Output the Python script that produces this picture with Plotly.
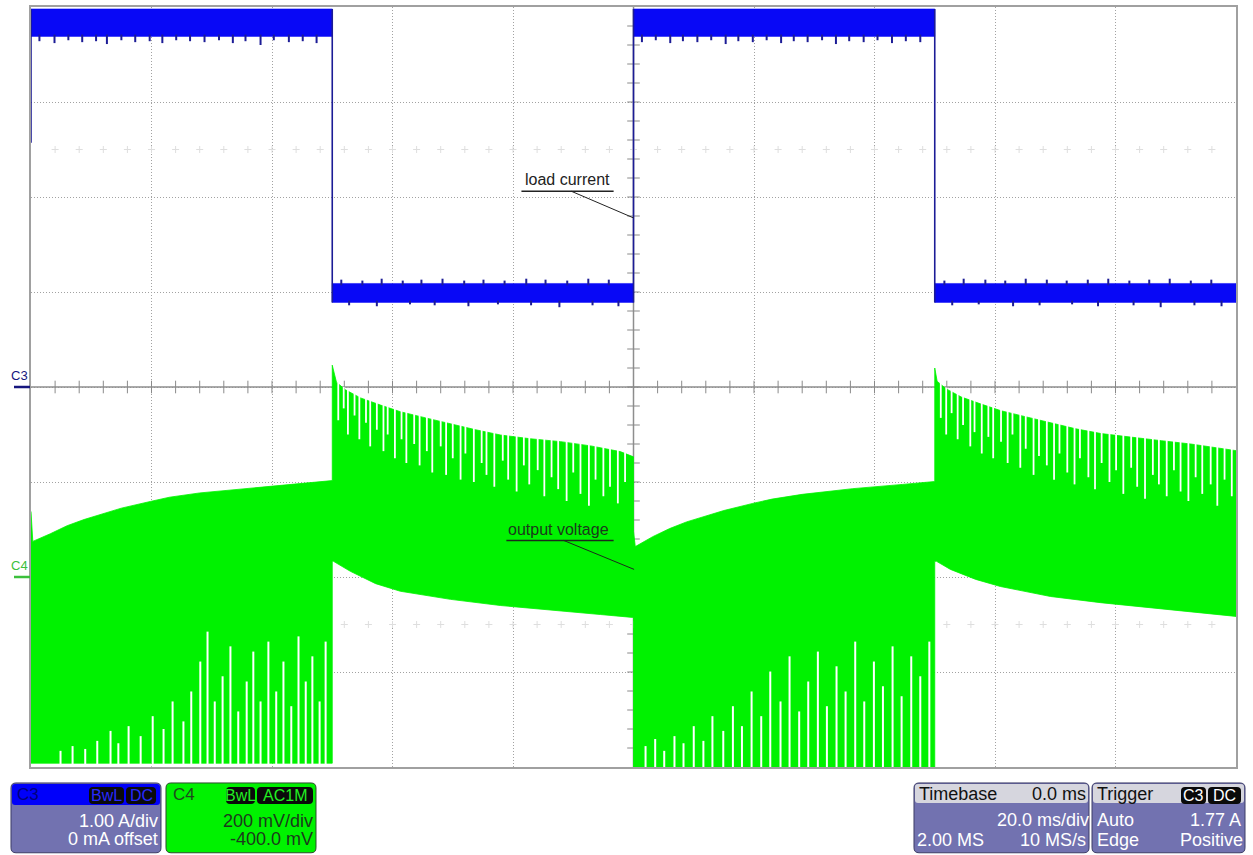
import numpy as np
import plotly.graph_objects as go

FONT = "Liberation Sans, Arial, Helvetica, sans-serif"

# ---- acquisition settings (shown in the info boxes) ----
TIME_PER_DIV_MS = 20.0
TIMEBASE_DELAY_MS = 0.0
C3_A_PER_DIV = 1.00
C3_OFFSET_A = 0.0
C4_MV_PER_DIV = 200.0
C4_OFFSET_MV = -400.0
TRIGGER_LEVEL_A = 1.77
N_XDIV, N_YDIV = 10, 8

# ---- C3: load current (A) ----
c3_edges_ms = [-100.0, -50.0, 0.0, 50.0, 100.0]
c3_levels = ["high", "low", "high", "low"]
c3_high_band_a = [3.69, 3.98]
c3_low_band_a = [0.89, 1.09]
c3_trace_start_a = 2.57
c3_high_dip_ms = [-98.6, -96.1, -93.8, -91.5, -89.2, -87.4, -85.0, -82.7, -80.3, -78.2, -75.9,
                  -73.6, -71.2, -68.8, -66.5, -64.4, -61.9, -59.7, -57.2, -54.9, -52.6,
                  1.4, 3.7, 6.1, 8.2, 10.6, 12.9, 15.3, 17.4, 19.8, 22.1, 24.5,
                  26.6, 28.9, 31.3, 33.6, 35.8, 38.2, 40.5, 42.9, 45.2, 47.6]
c3_high_dip_a = [3.64, 3.62, 3.65, 3.63, 3.64, 3.61, 3.65, 3.63, 3.64, 3.62, 3.65,
                 3.64, 3.63, 3.65, 3.62, 3.64, 3.60, 3.65, 3.63, 3.64, 3.62,
                 3.63, 3.65, 3.62, 3.64, 3.63, 3.65, 3.61, 3.64, 3.63, 3.65, 3.62,
                 3.64, 3.63, 3.65, 3.61, 3.64, 3.63, 3.65, 3.62, 3.64, 3.63]
c3_low_peak_ms = [-48.5, -45.0, -41.8, -38.3, -35.2, -31.7, -28.1, -24.9, -21.4, -17.8, -14.6, -11.0, -7.5, -4.1,
                  51.6, 54.8, 58.4, 61.7, 65.1, 68.6, 71.9, 75.4, 78.8, 82.3, 85.6, 89.0, 92.5, 95.9]
c3_low_peak_a = [1.13, 1.12, 1.14, 1.12, 1.13, 1.14, 1.12, 1.13, 1.12, 1.14, 1.13, 1.12, 1.14, 1.13,
                 1.12, 1.14, 1.13, 1.12, 1.14, 1.13, 1.12, 1.13, 1.14, 1.12, 1.13, 1.14, 1.12, 1.13]
c3_low_dip_ms = [-47.2, -42.6, -37.1, -33.0, -27.4, -22.5, -17.0, -12.3, -6.8, -2.5,
                 52.9, 57.3, 63.0, 67.4, 72.8, 77.1, 83.0, 87.5, 93.1, 97.6]
c3_low_dip_a = [0.86, 0.85, 0.87, 0.86, 0.85, 0.87, 0.86, 0.84, 0.86, 0.85,
                0.86, 0.87, 0.85, 0.86, 0.87, 0.85, 0.86, 0.84, 0.86, 0.85]

# ---- C4: output voltage (mV), ripple envelope ----
c4_top_ms = [-100.0, -99.7, -96.8, -94.0, -91.2, -88.5, -85.0, -80.2, -77.0, -72.0, -63.6, -55.3, -50.2,
             -50.0, -50.0, -49.3, -47.8, -45.3, -42.0, -38.7, -34.5, -30.4, -26.2, -22.1, -17.1,
             -12.1, -7.1, -2.2, -0.2, 0.0, 0.0, 0.3, 3.2, 6.0, 8.8, 11.5, 15.0, 19.8, 23.0, 28.0,
             36.4, 44.7, 49.8, 50.0, 50.0, 50.4, 51.9, 54.4, 57.7, 61.0, 65.2, 69.3, 73.4,
             77.6, 82.6, 87.6, 92.5, 97.5, 100.0]
c4_top_mv = [138, 75, 91, 108, 121, 132, 145, 159, 168, 177, 187, 196, 203,
             203, 446, 410, 394, 377, 362, 348, 335, 322, 310, 299, 291,
             285, 276, 264, 253, 253, 96, 64, 85, 102, 116, 127, 140, 155, 164, 174,
             186, 195, 201, 201, 440, 412, 396, 379, 364, 350, 337, 324, 312,
             302, 294, 287, 280, 270, 266]
c4_bot_ms = [-100.0, -50.0, -50.0, -49.8, -47.0, -42.8, -38.7, -30.4, -22.1, -13.8, -5.5, -0.2,
             0.0, 0.0, 50.0, 50.0, 50.3, 52.6, 56.8, 60.9, 69.2, 77.5, 85.8, 94.1, 100.0]
c4_bot_mv = [-392, -392, 33, 33, 12, -14, -30, -47, -60, -70, -79, -85,
             -85, -400, -400, 33, 33, 16, -5, -20, -41, -54, -64, -75, -83]
# dips in the upper edge of the ripple (time, lowest value reached)
c4_notch_ms = [-49.0, -48.1, -47.4, -46.3, -45.5, -44.4, -43.7, -42.6, -41.5, -40.8,
               -39.6, -38.5, -37.7, -36.4, -35.5, -34.3, -33.4, -32.0, -31.1, -30.0,
               -28.7, -27.9, -26.5, -25.2, -24.4, -23.1, -21.7, -20.8, -19.4, -18.2,
               -17.3, -15.9, -14.8, -13.6, -12.5, -11.1, -10.0, -8.8, -7.4, -6.3,
               -5.0, -3.9, -2.6, -1.4,
               51.0, 51.9, 52.8, 53.8, 54.7, 55.9, 56.6, 57.8, 58.9, 59.7,
               61.0, 62.1, 62.9, 64.2, 65.1, 66.4, 67.3, 68.6, 69.8, 70.7,
               72.0, 73.2, 74.1, 75.5, 76.6, 77.7, 79.0, 80.1, 81.3, 82.6,
               83.6, 84.9, 86.2, 87.2, 88.5, 89.7, 90.8, 92.1, 93.3, 94.4,
               95.8, 96.9, 98.1, 99.3]
c4_notch_mv = [330, 355, 300, 340, 290, 325, 275, 310, 265, 300,
               250, 290, 240, 280, 235, 265, 220, 275, 215, 250,
               205, 260, 200, 240, 215, 190, 245, 205, 180, 235,
               195, 225, 170, 210, 185, 160, 220, 175, 150, 205,
               170, 190, 155, 200,
               335, 300, 345, 290, 320, 275, 305, 260, 295, 250,
               285, 240, 300, 230, 270, 215, 255, 235, 205, 260,
               220, 195, 250, 210, 185, 240, 200, 225, 175, 230,
               190, 165, 215, 195, 170, 225, 180, 160, 210, 175,
               195, 150, 205, 170]
# gaps in the lower edge of the ripple (time, highest value the gap reaches)
c4_gap_ms = [-95.1, -93.1, -91.0, -89.0, -86.8, -85.5, -83.8, -81.8, -79.8, -78.0, -76.5,
             -74.7, -73.4, -71.9, -70.7, -69.5, -68.2, -66.9, -65.6, -64.2, -63.1, -61.9,
             -60.6, -59.3, -58.1, -56.8, -55.6, -54.4, -53.3, -52.1, -51.1,
             2.0, 3.6, 5.1, 6.8, 8.3, 10.0, 11.6, 13.1, 14.9, 16.5, 18.0, 19.6, 21.2,
             22.7, 24.4, 25.9, 27.5, 29.0, 30.6, 32.1, 33.7, 35.2, 36.8, 38.3, 39.9,
             41.4, 43.0, 44.5, 46.1, 47.6, 49.1]
c4_gap_mv = [-366, -356, -362, -345, -324, -350, -314, -335, -293, -320, -262,
             -304, -241, -178, -115, -262, -209, -146, -283, -220, -157, -262,
             -136, -241, -178, -272, -125, -220, -167, -262, -136,
             -356, -341, -366, -335, -350, -314, -345, -293, -324, -272, -314, -241, -293,
             -199, -262, -167, -283, -220, -157, -272, -188, -241, -136, -262, -178,
             -230, -146, -251, -167, -209, -136]

# ---- colours ----
BLUE_FILL = "#0808f6"
BLUE_EDGE = "#1c1c96"
GREEN = "#00f200"
GRID = "#a2a2a2"
PANEL = "#7272b0"
HEADER_GREY = "#d6d6de"

# ---- axis ranges from the vertical / horizontal settings ----
x_half = N_XDIV / 2 * TIME_PER_DIV_MS
x_range = [TIMEBASE_DELAY_MS - x_half, TIMEBASE_DELAY_MS + x_half]
y_range_a = [-N_YDIV / 2 * C3_A_PER_DIV - C3_OFFSET_A, N_YDIV / 2 * C3_A_PER_DIV - C3_OFFSET_A]
y_range_mv = [-N_YDIV / 2 * C4_MV_PER_DIV - C4_OFFSET_MV, N_YDIV / 2 * C4_MV_PER_DIV - C4_OFFSET_MV]


def vsegs(ts, y0s, y1s):
    xs, ys = [], []
    for t, a, b in zip(ts, y0s, y1s):
        xs += [t, t, None]
        ys += [a, b, None]
    return xs, ys


fig = go.Figure()

# faint graticule crosses at +/- 2.5 div
minor_t = np.arange(x_range[0] + TIME_PER_DIV_MS / 5, x_range[1], TIME_PER_DIV_MS / 5)
for row in (2.5, -2.5):
    fig.add_trace(go.Scatter(
        x=minor_t, y=[row * C3_A_PER_DIV] * len(minor_t), mode="markers",
        marker=dict(symbol="cross-thin", size=5, line=dict(color="#dedede", width=1)),
        hoverinfo="skip", showlegend=False))

# minor ticks on the centre axes
fig.add_trace(go.Scatter(
    x=minor_t, y=[0] * len(minor_t), mode="markers",
    marker=dict(symbol="line-ns", size=9, line=dict(color="#8a8a8a", width=1)),
    hoverinfo="skip", showlegend=False))
minor_a = np.arange(y_range_a[0] + C3_A_PER_DIV / 5, y_range_a[1] - 1e-9, C3_A_PER_DIV / 5)
fig.add_trace(go.Scatter(
    x=[TIMEBASE_DELAY_MS] * len(minor_a), y=minor_a, mode="markers",
    marker=dict(symbol="line-ew", size=9, line=dict(color="#8a8a8a", width=1)),
    hoverinfo="skip", showlegend=False))

# C3 load current: noise bands
bx, by = [], []
for t0, t1, lvl in zip(c3_edges_ms[:-1], c3_edges_ms[1:], c3_levels):
    lo, hi = c3_high_band_a if lvl == "high" else c3_low_band_a
    bx += [t0, t1, t1, t0, t0, None]
    by += [lo, lo, hi, hi, lo, None]
fig.add_trace(go.Scatter(x=bx, y=by, mode="lines", fill="toself", fillcolor=BLUE_FILL,
                         line=dict(color=BLUE_FILL, width=0.5), hoverinfo="skip", showlegend=False))

# C3 edges
ex, ey = vsegs([c3_edges_ms[0]], [c3_trace_start_a], [c3_high_band_a[1]])
ex2, ey2 = vsegs(c3_edges_ms[1:-1], [c3_low_band_a[0]] * 3, [c3_high_band_a[1]] * 3)
fig.add_trace(go.Scatter(x=ex + ex2, y=ey + ey2, mode="lines",
                         line=dict(color=BLUE_EDGE, width=1.6), hoverinfo="skip", showlegend=False))

# C3 noise spikes
sx1, sy1 = vsegs(c3_high_dip_ms, [c3_high_band_a[0] + 0.02] * len(c3_high_dip_ms), c3_high_dip_a)
sx2, sy2 = vsegs(c3_low_peak_ms, [c3_low_band_a[1] - 0.02] * len(c3_low_peak_ms), c3_low_peak_a)
sx3, sy3 = vsegs(c3_low_dip_ms, [c3_low_band_a[0] + 0.02] * len(c3_low_dip_ms), c3_low_dip_a)
fig.add_trace(go.Scatter(x=sx1 + sx2 + sx3, y=sy1 + sy2 + sy3, mode="lines",
                         line=dict(color=BLUE_EDGE, width=2), hoverinfo="skip", showlegend=False))

# C4 output voltage ripple envelope
gx = c4_top_ms + c4_bot_ms[::-1]
gy = c4_top_mv + c4_bot_mv[::-1]
fig.add_trace(go.Scatter(x=gx, y=gy, yaxis="y2", mode="lines", fill="toself", fillcolor=GREEN,
                         line=dict(color=GREEN, width=0.8), hoverinfo="skip", showlegend=False))

# dips along the top edge and gaps along the bottom edge of the ripple
notch_start = np.interp(c4_notch_ms, c4_top_ms, c4_top_mv) + 3
nx, ny = vsegs(c4_notch_ms, notch_start, c4_notch_mv)
fig.add_trace(go.Scatter(x=nx, y=ny, yaxis="y2", mode="lines",
                         line=dict(color="white", width=1.8), hoverinfo="skip", showlegend=False))
gpx, gpy = vsegs(c4_gap_ms, [y_range_mv[0] - 20] * len(c4_gap_ms), c4_gap_mv)
fig.add_trace(go.Scatter(x=gpx, y=gpy, yaxis="y2", mode="lines",
                         line=dict(color="white", width=2), hoverinfo="skip", showlegend=False))

# trigger level and trigger position markers
fig.add_trace(go.Scatter(x=[x_range[1] + 1.3], y=[TRIGGER_LEVEL_A], mode="markers", cliponaxis=False,
                         marker=dict(symbol="triangle-left", size=11, color="#1010d8"),
                         hoverinfo="skip", showlegend=False))
fig.add_trace(go.Scatter(x=[TIMEBASE_DELAY_MS], y=[y_range_a[0] - 0.09], mode="markers", cliponaxis=False,
                         marker=dict(symbol="triangle-up", size=11, color="#1010d8"),
                         hoverinfo="skip", showlegend=False))

# centre axes
fig.add_shape(type="line", x0=x_range[0], x1=x_range[1], y0=0, y1=0, xref="x", yref="y",
              line=dict(color="#8e8e8e", width=1.5), layer="between")
fig.add_shape(type="line", x0=TIMEBASE_DELAY_MS, x1=TIMEBASE_DELAY_MS, y0=y_range_a[0], y1=y_range_a[1],
              xref="x", yref="y", line=dict(color="#8e8e8e", width=1.5), layer="between")

# trace callouts
fig.add_annotation(x=-11.0, y=2.18, xref="x", yref="y", text="load current", showarrow=False,
                   font=dict(family=FONT, size=16, color="#222222"))
fig.add_shape(type="line", x0=-18.6, x1=-3.3, y0=2.06, y1=2.06, xref="x", yref="y",
              line=dict(color="#222222", width=1.5))
fig.add_shape(type="line", x0=-10.3, x1=0.0, y0=2.06, y1=TRIGGER_LEVEL_A + 0.01, xref="x", yref="y",
              line=dict(color="#222222", width=1))
fig.add_annotation(x=-12.4, y=100, xref="x", yref="y2", text="output voltage", showarrow=False,
                   font=dict(family=FONT, size=16, color="#1c3a1c"))
fig.add_shape(type="line", x0=-21.1, x1=-3.3, y0=77, y1=77, xref="x", yref="y2",
              line=dict(color="#1c2a1c", width=1.5))
fig.add_shape(type="line", x0=-11.6, x1=0.1, y0=77, y1=16, xref="x", yref="y2",
              line=dict(color="#1c2a1c", width=1))


# ---- pixel placement helpers for items outside the graticule ----
def px_x(px):
    return (px - 31) / 1205


def px_y(py):
    return (767 - py) / 762


def val_y(v, rng):
    return (v - rng[0]) / (rng[1] - rng[0])


# channel ground markers on the left
c3_gnd = val_y(0.0, y_range_a)
c4_gnd = val_y(0.0, y_range_mv)
for name, gnd, col in (("C3", c3_gnd, "#16167e"), ("C4", c4_gnd, "#3cc03c")):
    fig.add_annotation(x=px_x(19.5), y=gnd, xref="paper", yref="paper", text=name, showarrow=False,
                       xanchor="center", yanchor="bottom", yshift=3, borderpad=0,
                       font=dict(family=FONT, size=13, color=col))
    fig.add_shape(type="line", x0=px_x(14), x1=px_x(30), y0=gnd, y1=gnd, xref="paper", yref="paper",
                  line=dict(color=col, width=2.5))


def rrect(x0, y0, x1, y1, r, fill, line_color=None, line_width=0):
    def P(x, y):
        return f"{px_x(x):.5f},{px_y(y):.5f}"
    path = (f"M {P(x0 + r, y0)} L {P(x1 - r, y0)} Q {P(x1, y0)} {P(x1, y0 + r)} "
            f"L {P(x1, y1 - r)} Q {P(x1, y1)} {P(x1 - r, y1)} L {P(x0 + r, y1)} "
            f"Q {P(x0, y1)} {P(x0, y1 - r)} L {P(x0, y0 + r)} Q {P(x0, y0)} {P(x0 + r, y0)} Z")
    fig.add_shape(type="path", path=path, xref="paper", yref="paper", fillcolor=fill,
                  line=dict(color=line_color or fill, width=line_width), layer="above")


def label(px, py, text, anchor, color, size=18):
    fig.add_annotation(x=px_x(px), y=px_y(py), xref="paper", yref="paper", text=text,
                       showarrow=False, xanchor=anchor, yanchor="middle", borderpad=0,
                       font=dict(family=FONT, size=size, color=color))


def badge(x0, x1, text, color):
    rrect(x0, 787, x1, 804, 4, "#0a0a0a")
    label((x0 + x1) / 2, 796, text, "center", color, size=16)


# C3 box
rrect(11, 783, 161, 853, 5, PANEL, "#3c3c66", 1)
rrect(12, 784, 160, 805, 3, "#0000fa")
label(16, 795, "C3", "left", "#00007c", size=17)
badge(89, 124, "BwL", "#2828ff")
badge(126, 156, "DC", "#2828ff")
label(159, 821, f"{C3_A_PER_DIV:.2f} A/div", "right", "white")
label(159, 839, f"{C3_OFFSET_A * 1000:.0f} mA offset", "right", "white")

# C4 box
rrect(166, 783, 316, 853, 5, GREEN, "#2c4a2c", 1)
label(172, 795, "C4", "left", "#1e4a1e", size=17)
badge(226, 255, "BwL", "#22f022")
badge(257, 313, "AC1M", "#22f022")
label(314, 821, f"{C4_MV_PER_DIV:.0f} mV/div", "right", "#1c3a1c")
label(314, 839, f"{C4_OFFSET_MV:.1f} mV", "right", "#1c3a1c")

# Timebase box
rrect(914, 783, 1089, 853, 5, PANEL, "#3c3c66", 1)
rrect(915, 784, 1088, 803, 3, HEADER_GREY)
label(918, 794, "Timebase", "left", "#111111")
label(1087, 794, f"{TIMEBASE_DELAY_MS:.1f} ms", "right", "#111111")
label(1090, 820, f"{TIME_PER_DIV_MS:.1f} ms/div", "right", "white")
label(916, 840, "2.00 MS", "left", "white")
label(1087, 840, "10 MS/s", "right", "white")

# Trigger box
rrect(1092, 783, 1245, 853, 5, PANEL, "#3c3c66", 1)
rrect(1093, 784, 1244, 803, 3, HEADER_GREY)
label(1096, 794, "Trigger", "left", "#111111")
badge(1181, 1206, "C3", "white")
badge(1208, 1241, "DC", "white")
label(1096, 820, "Auto", "left", "white")
label(1242, 820, f"{TRIGGER_LEVEL_A:.2f} A", "right", "white")
label(1096, 840, "Edge", "left", "white")
label(1244, 840, "Positive", "right", "white")

axis_common = dict(showticklabels=False, ticks="", showgrid=True, gridcolor=GRID, gridwidth=1,
                   griddash="1px,2px", zeroline=False, showline=True, linecolor="#a0a0a0",
                   linewidth=2, mirror=True, fixedrange=True)
fig.update_layout(
    width=1253, height=855,
    margin=dict(l=31, r=17, t=5, b=88, pad=0),
    paper_bgcolor="white", plot_bgcolor="white",
    xaxis=dict(range=x_range, dtick=TIME_PER_DIV_MS, tick0=0, **axis_common),
    yaxis=dict(range=y_range_a, dtick=C3_A_PER_DIV, tick0=0, **axis_common),
    yaxis2=dict(range=y_range_mv, overlaying="y", visible=False, fixedrange=True),
    showlegend=False,
)

fig.write_html("out.html", config={"displayModeBar": False})
